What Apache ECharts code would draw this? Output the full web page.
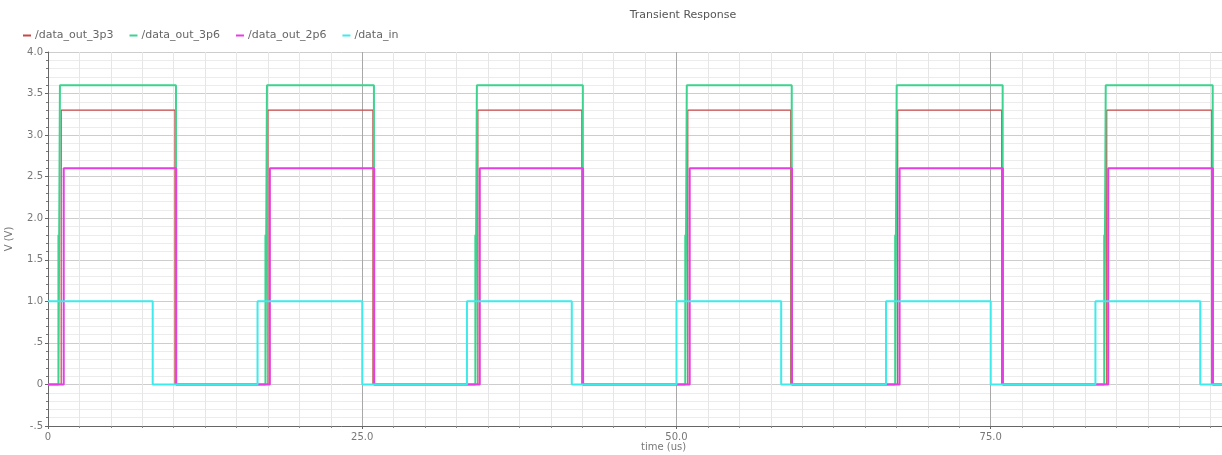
<!DOCTYPE html>
<html>
<head>
<meta charset="utf-8">
<script src="https://cdn.jsdelivr.net/npm/echarts@6/dist/echarts.min.js"></script>
<style>html,body{margin:0;padding:0;background:#fff;}#c{width:1222px;height:455px;}</style>
</head>
<body>
<div id="c"></div>
<script>
// ---- data ----
const seriesNames = ['/data_out_3p3', '/data_out_3p6', '/data_out_2p6', '/data_in'];
const timeMax = 93.4; // us, right edge of the plot
const yTickLabels = ['-.5', '0', '.5', '1.0', '1.5', '2.0', '2.5', '3.0', '3.5', '4.0'];
const xTickLabels = ['0', '25.0', '50.0', '75.0'];

// output high levels (V)
const out3p3High = 3.3;
const out3p6High = 3.6;
const out2p6High = 2.6;
const inHigh = 1.0;

// rising / falling edge times (us)
const out3p3Rise = [1.05, 17.50, 34.20, 50.90, 67.60, 84.23];
const out3p3Fall = [10.10, 25.85, 42.47, 59.09, 75.87, 92.58];
const out3p6Rise = [0.95, 17.42, 34.12, 50.82, 67.52, 84.15];
const out3p6Fall = [10.18, 25.93, 42.55, 59.17, 75.95, 92.66];
const out3p6Spike = [1.8, 1.8, 1.8, 1.8, 1.8, 1.8]; // short glitch just before each rise
const out2p6Rise = [1.25, 17.65, 34.35, 51.05, 67.75, 84.35];
const out2p6Fall = [10.20, 25.95, 42.57, 59.19, 75.97, 92.68];
// data_in starts high at t=0 and toggles at these times
const inEdges = [8.33, 16.67, 25.0, 33.33, 41.67, 50.0, 58.33, 66.67, 75.0, 83.33, 91.67];

// ---- build step waveforms ----
function pulses(rises, falls, hi, spikes) {
  const d = [[0, 0]];
  for (let i = 0; i < rises.length; i++) {
    if (spikes) {
      d.push([rises[i] - 0.12, 0], [rises[i] - 0.12, spikes[i]], [rises[i] - 0.12, 0]);
    }
    d.push([rises[i], 0], [rises[i], hi], [falls[i], hi], [falls[i], 0]);
  }
  d.push([timeMax, 0]);
  return d;
}
function toggles(edges, hi) {
  let lvl = hi;
  const d = [[0, lvl]];
  edges.forEach(t => {
    d.push([t, lvl]);
    lvl = lvl === hi ? 0 : hi;
    d.push([t, lvl]);
  });
  d.push([timeMax, lvl]);
  return d;
}

const colors = ['#c84848', '#3dd38e', '#e43ee4', '#3eeaea'];
const dataSets = [
  pulses(out3p3Rise, out3p3Fall, out3p3High),
  pulses(out3p6Rise, out3p6Fall, out3p6High, out3p6Spike),
  pulses(out2p6Rise, out2p6Fall, out2p6High),
  toggles(inEdges, inHigh)
];
const widths = [1.2, 2, 2, 2];

const font = 'DejaVu Sans';
const chart = echarts.init(document.getElementById('c'), null, {renderer: 'canvas'});
chart.setOption({
  animation: false,
  backgroundColor: '#ffffff',
  color: colors,
  title: {
    text: 'Transient Response',
    left: 678, top: 5, textAlign: 'center',
    textStyle: {fontFamily: font, fontSize: 11, fontWeight: 'normal', color: '#555'}
  },
  legend: {
    left: 18, top: 25,
    icon: 'rect', itemWidth: 8, itemHeight: 2, itemGap: 16,
    data: seriesNames,
    textStyle: {fontFamily: font, fontSize: 11, color: '#666', padding: [0, 0, 0, -1]}
  },
  grid: {left: 48, right: 0, top: 52, bottom: 29, containLabel: false, outerBoundsMode: 'none'},
  xAxis: {
    type: 'value', min: 0, max: timeMax, interval: 25,
    axisLine: {show: true, onZero: false, lineStyle: {color: '#666', width: 1}},
    axisTick: {show: true, length: 3, lineStyle: {color: '#666'}},
    minorTick: {show: true, splitNumber: 10, length: 2, lineStyle: {color: '#888'}},
    axisLabel: {
      fontFamily: font, fontSize: 10, color: '#777', margin: 6, showMaxLabel: false,
      formatter: v => xTickLabels[Math.round(v / 25)] || ''
    },
    splitLine: {show: true, lineStyle: {color: '#a8a8a8', width: 1}},
    minorSplitLine: {show: true, lineStyle: {color: '#e6e6e6', width: 1}}
  },
  yAxis: {
    type: 'value', min: -0.5, max: 4.0, interval: 0.5,
    name: 'V (V)', nameLocation: 'middle', nameGap: 34, nameRotate: 90,
    nameTextStyle: {fontFamily: font, fontSize: 10, color: '#777'},
    axisLine: {show: true, lineStyle: {color: '#666', width: 1}},
    axisTick: {show: true, length: 3, lineStyle: {color: '#666'}},
    minorTick: {show: true, splitNumber: 5, length: 2, lineStyle: {color: '#777'}},
    axisLabel: {
      fontFamily: font, fontSize: 10, color: '#777', margin: 5,
      formatter: v => yTickLabels[Math.round((v + 0.5) / 0.5)] || ''
    },
    splitLine: {show: true, lineStyle: {color: '#cdcdcd', width: 1}},
    minorSplitLine: {show: true, lineStyle: {color: '#ececec', width: 1}}
  },
  graphic: [{
    type: 'text', left: 641, top: 442,
    style: {text: 'time (us)', fontFamily: font, fontSize: 10, fill: '#777'}
  }],
  series: seriesNames.map((n, i) => ({
    name: n, type: 'line', data: dataSets[i], showSymbol: false, symbol: 'none',
    lineStyle: {width: widths[i], color: colors[i]},
    itemStyle: {color: colors[i]},
    clip: true, silent: true
  }))
});
</script>
</body>
</html>
